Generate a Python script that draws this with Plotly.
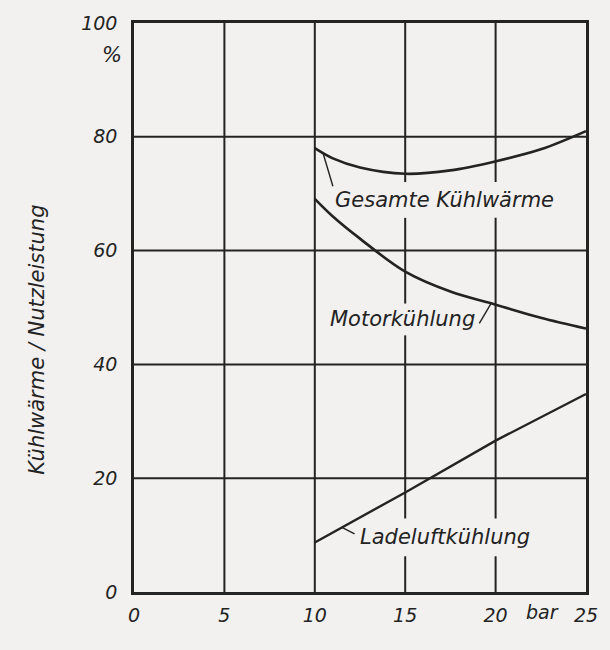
import numpy as np
import plotly.graph_objects as go

# Ladedruck (bar) and heat shares (% of useful output)
pressure_curve = [10, 11, 12.5, 15, 17.5, 20, 22.5, 25]
gesamte_kuehlwaerme = [78.0, 76.2, 74.6, 73.5, 74.1, 75.7, 77.8, 81.0]
motorkuehlung = [69.1, 66.0, 62.1, 56.3, 52.8, 50.5, 48.2, 46.3]

pressure_line = [10, 15, 20, 25]
ladeluftkuehlung = [8.7, 17.5, 26.6, 34.8]

x_ticks = [0, 5, 10, 15, 20, 25]
x_tick_labels = ["0", "5", "10", "15", "20", "25"]
y_ticks = [0, 20, 40, 60, 80, 100]
y_tick_labels = ["0", "20", "40", "60", "80", "100"]

curve_labels = ["Gesamte Kühlwärme", "Motorkühlung", "Ladeluftkühlung"]

INK = "#232323"
PAPER = "#f2f1ef"
FONT = "DejaVu Sans"

X_RANGE = (0, 25)
Y_RANGE = (0, 100)
MARGIN = dict(l=134, r=20, t=20, b=58)
W, H = 610, 650
px_per_x = (W - MARGIN["l"] - MARGIN["r"]) / (X_RANGE[1] - X_RANGE[0])
px_per_y = (H - MARGIN["t"] - MARGIN["b"]) / (Y_RANGE[1] - Y_RANGE[0])

# label centres (data units) and the half size of the clear zone round them (px)
label_pos = [(17.2, 68.9), (14.86, 47.9), (17.2, 9.6)]
clear_half = [(122, 18), (80, 16), (96, 19)]

# grid drawn as one line trace, interrupted where a label sits
gx, gy = [], []
for xv in x_ticks[1:-1]:
    gaps = []
    for (lx, ly), (hw, hh) in zip(label_pos, clear_half):
        if abs(xv - lx) <= hw / px_per_x:
            gaps.append((ly - hh / px_per_y, ly + hh / px_per_y))
    start = Y_RANGE[0]
    for g0, g1 in sorted(gaps):
        gx += [xv, xv, None]
        gy += [start, g0, None]
        start = g1
    gx += [xv, xv, None]
    gy += [start, Y_RANGE[1], None]
for yv in y_ticks[1:-1]:
    gx += [X_RANGE[0], X_RANGE[1], None]
    gy += [yv, yv, None]

fig = go.Figure()
fig.add_trace(go.Scatter(x=gx, y=gy, mode="lines", line=dict(color=INK, width=2),
                         hoverinfo="skip", name="grid"))

fig.add_trace(go.Scatter(x=pressure_curve, y=gesamte_kuehlwaerme, mode="lines",
                         line=dict(color=INK, width=2.6, shape="spline", smoothing=1.0),
                         name=curve_labels[0], hoverinfo="skip"))
fig.add_trace(go.Scatter(x=pressure_curve, y=motorkuehlung, mode="lines",
                         line=dict(color=INK, width=2.6, shape="spline", smoothing=1.0),
                         name=curve_labels[1], hoverinfo="skip"))
fig.add_trace(go.Scatter(x=pressure_line, y=ladeluftkuehlung, mode="lines",
                         line=dict(color=INK, width=2.4),
                         name=curve_labels[2], hoverinfo="skip"))

label_font = dict(family=FONT, size=21, color=INK, style="italic")
for text, (lx, ly) in zip(curve_labels, label_pos):
    fig.add_annotation(x=lx, y=ly, text=text, showarrow=False, font=label_font,
                       xanchor="center", yanchor="middle")

# leader lines from each label to its curve
def on_curve(xs, ys, x):
    return float(np.interp(x, xs, ys))

leaders = [
    ((10.45, on_curve(pressure_curve, gesamte_kuehlwaerme, 10.45)), (11.0, 71.3)),
    ((19.75, on_curve(pressure_curve, motorkuehlung, 19.75)), (19.1, 47.2)),
    ((11.5, on_curve(pressure_line, ladeluftkuehlung, 11.5)), (12.2, 10.2)),
]
for (x0, y0), (x1, y1) in leaders:
    fig.add_shape(type="line", x0=x0, y0=y0, x1=x1, y1=y1, xref="x", yref="y",
                  line=dict(color=INK, width=1.4))

tick_font = dict(family=FONT, size=19, color=INK, style="italic")

# unit marks on the axes
fig.add_annotation(xref="paper", yref="paper", x=-0.048, y=0.944, text="%",
                   showarrow=False, font=dict(family=FONT, size=21, color=INK, style="italic"),
                   xanchor="center", yanchor="middle")
fig.add_annotation(x=22.6, y=0, yshift=-20, text="bar", showarrow=False, font=tick_font,
                   xanchor="center", yanchor="middle")

# vertical axis title
fig.add_annotation(xref="paper", yref="paper", x=-0.214, y=0.444,
                   text="Kühlwärme / Nutzleistung", textangle=-90, showarrow=False,
                   font=dict(family=FONT, size=21, color=INK, style="italic"),
                   xanchor="center", yanchor="middle")

fig.update_xaxes(range=list(X_RANGE), tickmode="array", tickvals=x_ticks, ticktext=x_tick_labels,
                 showgrid=False, zeroline=False,
                 showline=True, linecolor=INK, linewidth=2.5, mirror=True,
                 ticks="", tickfont=tick_font, ticklabelstandoff=4)
fig.update_yaxes(range=list(Y_RANGE), tickmode="array", tickvals=y_ticks, ticktext=y_tick_labels,
                 showgrid=False, zeroline=False,
                 showline=True, linecolor=INK, linewidth=2.5, mirror=True,
                 ticks="", tickfont=tick_font, ticklabelstandoff=10)

fig.update_layout(width=W, height=H, margin=MARGIN,
                  paper_bgcolor=PAPER, plot_bgcolor=PAPER, showlegend=False)

fig.write_html("out.html")
